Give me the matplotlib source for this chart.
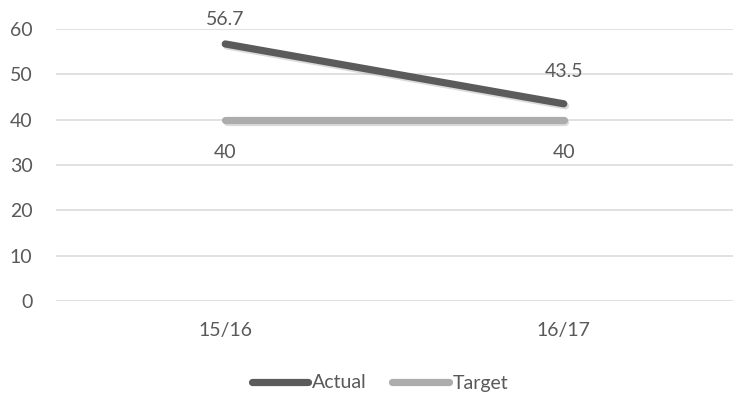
import matplotlib
matplotlib.use("Agg")
import matplotlib.pyplot as plt
import matplotlib.patheffects as pe
from matplotlib.lines import Line2D

seasons = ["15/16", "16/17"]
actual = [56.7, 43.5]
target = [40, 40]
yticks = [0, 10, 20, 30, 40, 50, 60]

text_color = "#595959"
actual_color = "#5b5b5b"
target_color = "#acacac"
grid_color = "#d9d9d9"

plt.rcParams["font.family"] = ["Lato", "DejaVu Sans"]
fs = 14

fig = plt.figure(figsize=(7.39, 3.96), dpi=100)
ax = fig.add_axes([56 / 739, 1 - 301 / 396, 677 / 739, 272 / 396])

x = list(range(len(seasons)))
shadow = [pe.SimpleLineShadow(offset=(1.2, -1.5), shadow_color="#999999", alpha=0.35), pe.Normal()]

ax.plot(x, target, color=target_color, lw=5.2, solid_capstyle="round",
        path_effects=shadow, zorder=3)
ax.plot(x, actual, color=actual_color, lw=5.2, solid_capstyle="round",
        path_effects=shadow, zorder=4)

# value labels: above the actual line, below the target line
above_offsets = [17.5, 23]
for xi, v, dy in zip(x, actual, above_offsets):
    ax.annotate(f"{v:g}", (xi, v), xytext=(0, dy), textcoords="offset points",
                ha="center", va="center", fontsize=fs, color=text_color)
for xi, v in zip(x, target):
    ax.annotate(f"{v:g}", (xi, v), xytext=(0, -23.5), textcoords="offset points",
                ha="center", va="center", fontsize=fs, color=text_color)

ax.set_xlim(-0.5, len(seasons) - 0.5)
ax.set_ylim(0, 60)
ax.set_yticks(yticks)
ax.set_xticks(x)
ax.set_xticklabels(seasons)
ax.grid(axis="y", color=grid_color, lw=1.1)
ax.set_axisbelow(True)
for s in ax.spines.values():
    s.set_visible(False)
ax.tick_params(axis="both", length=0, labelsize=fs, labelcolor=text_color)
ax.tick_params(axis="y", pad=17)
ax.tick_params(axis="x", pad=15)

handles = [Line2D([0], [0], color=actual_color, lw=5.2, solid_capstyle="round"),
           Line2D([0], [0], color=target_color, lw=5.2, solid_capstyle="round")]
fig.legend(handles, ["Actual", "Target"], loc="center", bbox_to_anchor=(380 / 739, 1 - 383 / 396),
           ncol=2, frameon=False, fontsize=fs, labelcolor=text_color,
           handlelength=2.9, handletextpad=0.2, columnspacing=1.3)

fig.savefig("out.png", dpi=100)
